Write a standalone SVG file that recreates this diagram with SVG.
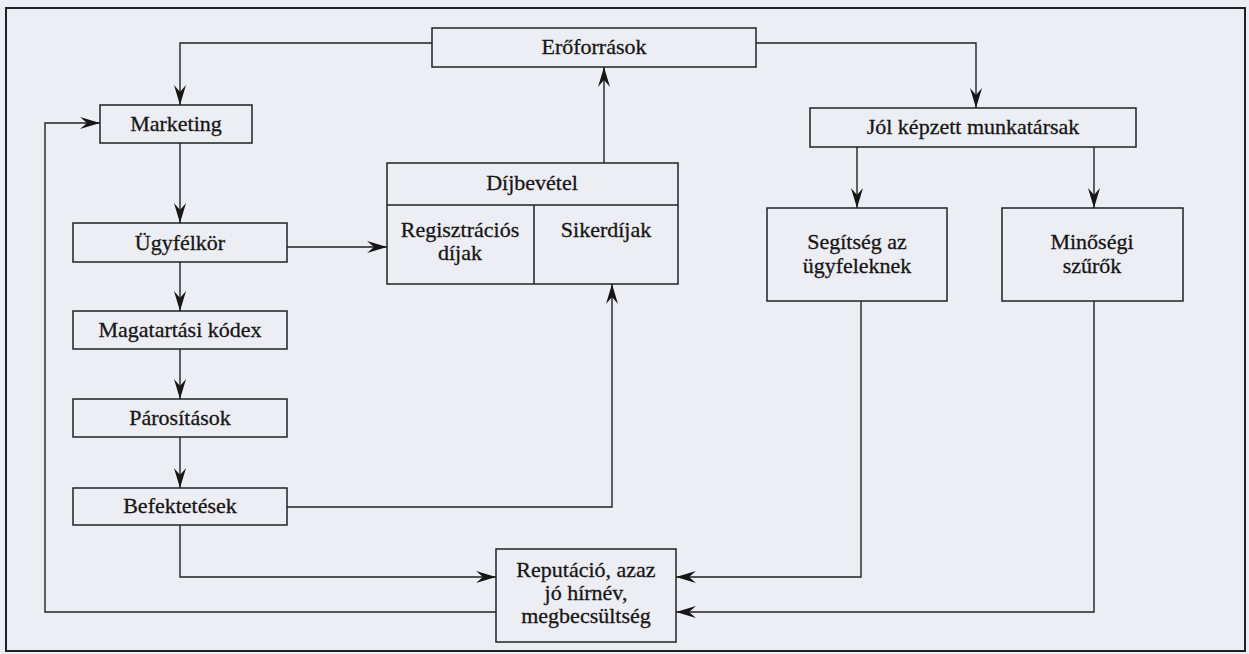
<svg xmlns="http://www.w3.org/2000/svg" width="1249" height="654" viewBox="0 0 1249 654">
<style>
.box{fill:none;stroke:#222;stroke-width:1.5}
.ln{fill:none;stroke:#222;stroke-width:1.4}
.t{font-family:'Liberation Serif','Times New Roman','DejaVu Serif',serif;font-size:22px;fill:#161616;stroke:#161616;stroke-width:0.3;text-anchor:middle}
</style>
<defs>
<marker id="ah" viewBox="0 0 20 12" refX="20" refY="6" markerWidth="20" markerHeight="12" markerUnits="userSpaceOnUse" orient="auto">
<path d="M0,0 L20,6 L0,12 L7,6 z" fill="#161616"/>
</marker>
</defs>
<rect x="0" y="0" width="1249" height="654" fill="#ededf4"/>
<rect x="6" y="8" width="1239" height="643" fill="none" stroke="#222" stroke-width="2"/>

<g id="connectors">
<path class="ln" d="M432,43 H180 V105" marker-end="url(#ah)"/>
<path class="ln" d="M756,43 H976 V108" marker-end="url(#ah)"/>
<path class="ln" d="M180,143 V223" marker-end="url(#ah)"/>
<path class="ln" d="M180,262 V311" marker-end="url(#ah)"/>
<path class="ln" d="M180,349 V399" marker-end="url(#ah)"/>
<path class="ln" d="M180,437 V488" marker-end="url(#ah)"/>
<path class="ln" d="M287,247 H387" marker-end="url(#ah)"/>
<path class="ln" d="M604,163 V67" marker-end="url(#ah)"/>
<path class="ln" d="M287,507 H612 V284" marker-end="url(#ah)"/>
<path class="ln" d="M180,525 V577 H496" marker-end="url(#ah)"/>
<path class="ln" d="M496,612 H45 V123 H100" marker-end="url(#ah)"/>
<path class="ln" d="M857,147 V208" marker-end="url(#ah)"/>
<path class="ln" d="M1094,147 V208" marker-end="url(#ah)"/>
<path class="ln" d="M861,301 V577 H676" marker-end="url(#ah)"/>
<path class="ln" d="M1094,301 V612 H676" marker-end="url(#ah)"/>
</g>

<g id="eroforrasok"><rect class="box" x="432" y="28" width="324" height="39"/><text class="t" x="594" y="54">Erőforrások</text></g>
<g id="marketing"><rect class="box" x="100" y="105" width="152" height="38"/><text class="t" x="176" y="131">Marketing</text></g>
<g id="ugyfelkor"><rect class="box" x="73" y="223" width="214" height="39"/><text class="t" x="180" y="250">Ügyfélkör</text></g>
<g id="magatartasi"><rect class="box" x="73" y="311" width="214" height="38"/><text class="t" x="180" y="337">Magatartási kódex</text></g>
<g id="parositasok"><rect class="box" x="73" y="399" width="214" height="38"/><text class="t" x="180" y="425">Párosítások</text></g>
<g id="befektetesek"><rect class="box" x="73" y="488" width="214" height="37"/><text class="t" x="180" y="513">Befektetések</text></g>
<g id="dijbevetel">
<rect class="box" x="387" y="163" width="291" height="121"/>
<path class="box" d="M387,205 H678 M534,205 V284"/>
<text class="t" x="532" y="190">Díjbevétel</text>
<text class="t" x="460" y="237">Regisztrációs</text>
<text class="t" x="460" y="260">díjak</text>
<text class="t" x="606" y="237">Sikerdíjak</text>
</g>
<g id="reputacio"><rect class="box" x="496" y="549" width="180" height="93"/>
<text class="t" x="586" y="577">Reputáció, azaz</text><text class="t" x="586" y="600">jó hírnév,</text><text class="t" x="586" y="623">megbecsültség</text></g>
<g id="jol"><rect class="box" x="810" y="108" width="326" height="39"/><text class="t" x="973" y="134">Jól képzett munkatársak</text></g>
<g id="segitseg"><rect class="box" x="767" y="208" width="180" height="93"/><text class="t" x="857" y="249">Segítség az</text><text class="t" x="857" y="273">ügyfeleknek</text></g>
<g id="minosegi"><rect class="box" x="1002" y="208" width="181" height="93"/><text class="t" x="1092" y="249">Minőségi</text><text class="t" x="1092" y="273">szűrők</text></g>
</svg>
